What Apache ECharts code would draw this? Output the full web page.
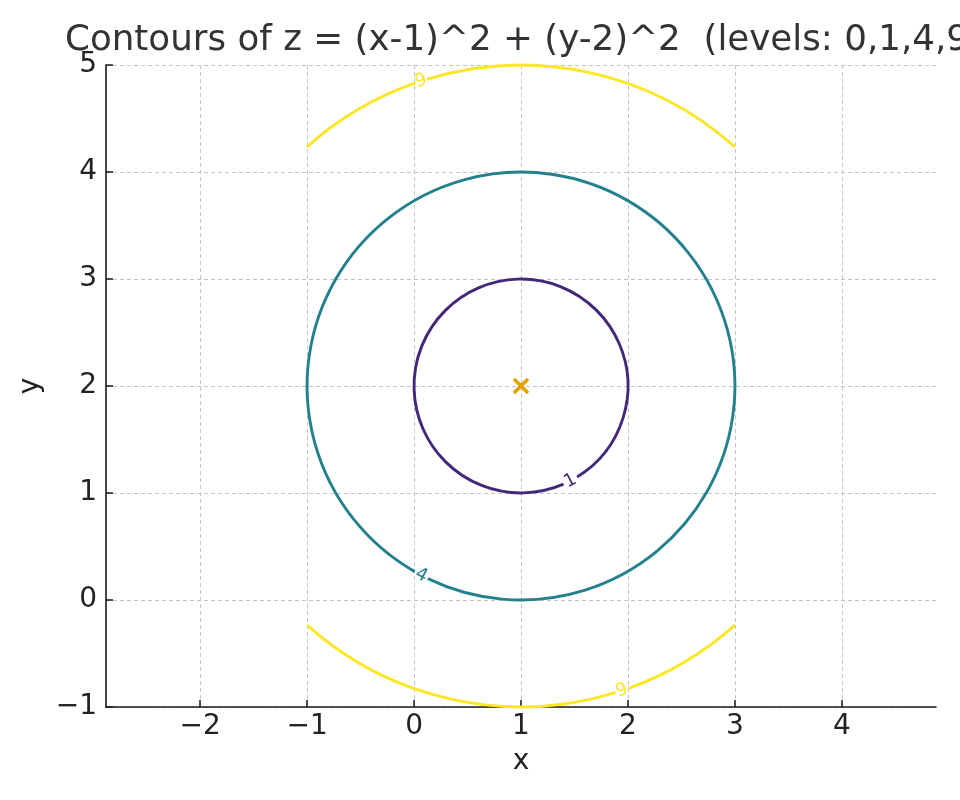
<!DOCTYPE html>
<html><head><meta charset="utf-8">
<script src="https://cdn.jsdelivr.net/npm/echarts@6/dist/echarts.min.js"></script>
<style>html,body{margin:0;padding:0;background:#fff}#c{width:960px;height:800px}</style>
</head><body><div id="c"></div>
<script>
const titleText = 'Contours of z = (x-1)^2 + (y-2)^2  (levels: 0,1,4,9)';
const xTicks = [-2, -1, 0, 1, 2, 3, 4];
const yTicks = [-1, 0, 1, 2, 3, 4, 5];
const xRange = [-2.88, 4.88];
const yRange = [-1, 5];
const center = [1, 2];
const levels = [1, 4, 9];
const levelColors = ['#45277a', '#23818d', '#fde725'];
// contour arc segments: [levelIndex, fromDeg, toDeg] (counterclockwise around the minimum)
const segments = [
  [0, -58.4, 293.4],
  [1, -115.8, 240.2],
  [2, 48.19, 107.1],
  [2, 109.2, 131.81],
  [2, -131.81, -72.9],
  [2, -70.4, -48.19]
];
// inline contour labels: [x, y, text, levelIndex]
const contourLabels = [
  [1.462, 1.113, '1', 0],
  [0.067, 0.231, '4', 1],
  [0.066, 4.851, '9', 2],
  [1.944, -0.848, '9', 2]
];
const minimumPoint = [[1, 2]];

const FONT = 'DejaVu Sans';
const fmt = v => String(v).replace('-', '\u2212');
const chart = echarts.init(document.getElementById('c'), null, {renderer: 'canvas'});
const axisCommon = {
  type: 'value',
  axisLine: {show: true, onZero: false, lineStyle: {color: '#1a1a1a', width: 1.6}},
  axisTick: {show: true, inside: true, length: 7, lineStyle: {color: '#1a1a1a', width: 1.5}},
  splitLine: {show: true, lineStyle: {color: '#c4c4c4', width: 1, type: [4, 3]}},
  axisLabel: {color: '#222', fontSize: 28, fontFamily: FONT, formatter: fmt},
  nameTextStyle: {color: '#222', fontSize: 28, fontFamily: FONT}
};
chart.setOption({
  animation: false,
  backgroundColor: '#fff',
  title: {
    text: titleText, left: 60, top: 18,
    textStyle: {color: '#333', fontSize: 35.7, fontWeight: 'normal', fontFamily: FONT}
  },
  grid: {left: 106, top: 65, width: 830, height: 642, containLabel: false},
  xAxis: Object.assign({}, axisCommon, {
    min: xRange[0], max: xRange[1],
    name: 'x', nameLocation: 'middle', nameGap: 41,
    axisTick: Object.assign({}, axisCommon.axisTick, {customValues: xTicks}),
    axisLabel: Object.assign({}, axisCommon.axisLabel, {customValues: xTicks, margin: 6})
  }),
  yAxis: Object.assign({}, axisCommon, {
    min: yRange[0], max: yRange[1], interval: 1,
    name: 'y', nameLocation: 'middle', nameGap: 53,
    axisLabel: Object.assign({}, axisCommon.axisLabel, {margin: 9})
  }),
  series: [
    {
      type: 'custom', coordinateSystem: 'cartesian2d', clip: false,
      data: segments.map(s => [center[0], center[1], levels[s[0]], s[1], s[2], s[0]]),
      renderItem: (params, api) => {
        const c = api.coord([api.value(0), api.value(1)]);
        const rpx = api.size([Math.sqrt(api.value(2)), 0])[0];
        const a0 = api.value(3) * Math.PI / 180, a1 = api.value(4) * Math.PI / 180;
        return {
          type: 'arc',
          shape: {cx: c[0], cy: c[1], r: rpx, startAngle: -a1, endAngle: -a0, clockwise: true},
          style: {fill: 'none', stroke: levelColors[api.value(5)], lineWidth: 2.9}
        };
      }
    },
    {
      type: 'custom', coordinateSystem: 'cartesian2d', clip: false,
      data: contourLabels.map(l => [l[0], l[1], l[3]]),
      renderItem: (params, api) => {
        const p = api.coord([api.value(0), api.value(1)]);
        const c = api.coord(center);
        const phi = Math.atan2(-(p[1] - c[1]), p[0] - c[0]);
        let t = phi + Math.PI / 2;
        while (t > Math.PI / 2) t -= Math.PI;
        while (t <= -Math.PI / 2) t += Math.PI;
        const idx = params.dataIndex;
        return {
          type: 'text', x: p[0], y: p[1], rotation: t,
          style: {
            text: contourLabels[idx][2], fill: levelColors[contourLabels[idx][3]],
            fontSize: 18, fontFamily: FONT, align: 'center', verticalAlign: 'middle'
          }
        };
      }
    },
    {
      type: 'custom', coordinateSystem: 'cartesian2d', clip: false,
      data: minimumPoint,
      renderItem: (params, api) => {
        const p = api.coord([api.value(0), api.value(1)]);
        const h = 7;
        const st = {stroke: '#e69f00', lineWidth: 3.6};
        return {
          type: 'group',
          children: [
            {type: 'line', shape: {x1: p[0] - h, y1: p[1] - h, x2: p[0] + h, y2: p[1] + h}, style: st},
            {type: 'line', shape: {x1: p[0] - h, y1: p[1] + h, x2: p[0] + h, y2: p[1] - h}, style: st}
          ]
        };
      }
    }
  ]
});
</script>
</body></html>
